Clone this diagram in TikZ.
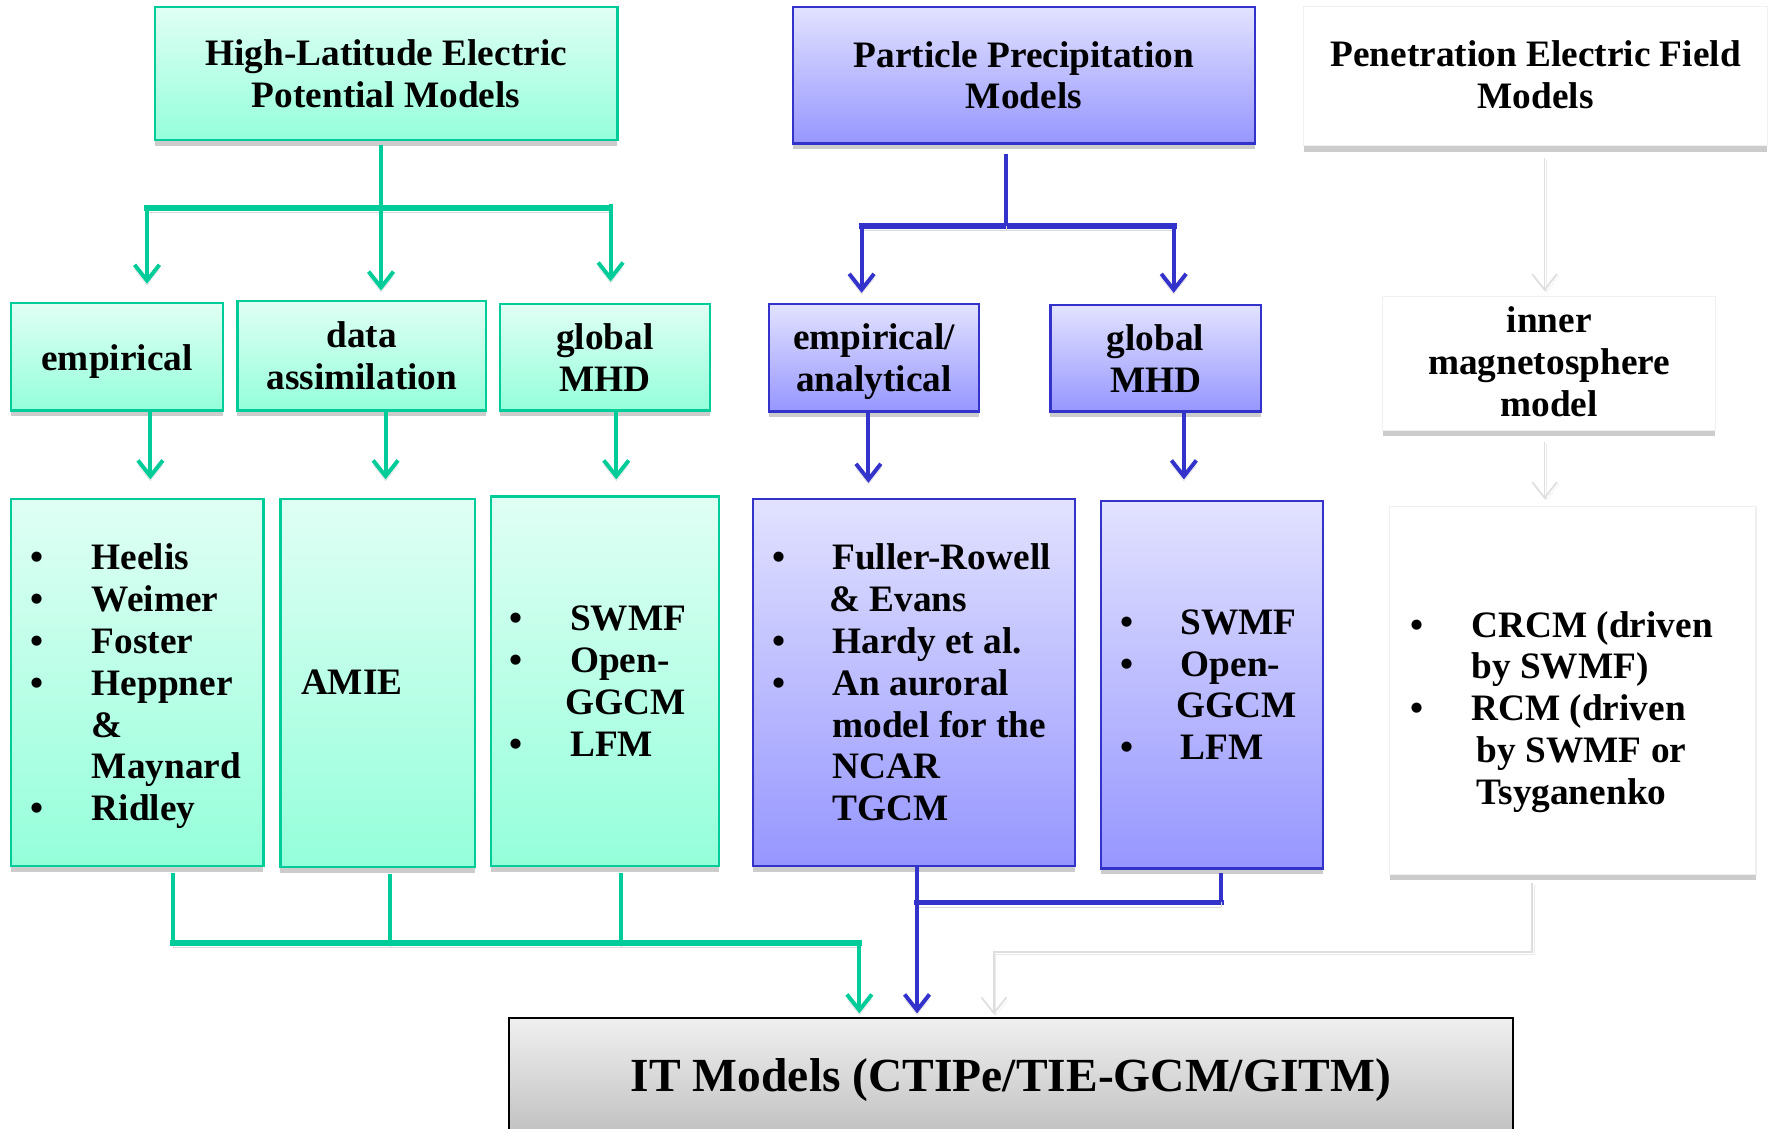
\documentclass[tikz,border=0pt]{standalone}
\usepackage{fontspec}
\setmainfont{Liberation Serif}
\usetikzlibrary{arrows.meta,shadows,calc}
\definecolor{gcol}{RGB}{0,204,153}
\definecolor{gtop}{RGB}{224,255,244}
\definecolor{gbot}{RGB}{148,255,218}
\definecolor{bcol}{RGB}{51,51,204}
\definecolor{btop}{RGB}{226,226,255}
\definecolor{bbot}{RGB}{150,150,255}
\definecolor{faintc}{RGB}{222,222,222}
\definecolor{itop}{RGB}{240,240,240}
\definecolor{ibot}{RGB}{192,192,192}
\tikzset{
  boxbase/.style={rectangle, inner sep=0pt, align=center,
    font=\bfseries\fontsize{33}{37}\selectfont,
    drop shadow={shadow xshift=0pt, shadow yshift=-5pt, fill=black!20, opacity=1}},
  gbox/.style={boxbase, draw=gcol, line width=2pt, top color=gtop, bottom color=gbot},
  bbox/.style={boxbase, draw=bcol, line width=2pt, top color=btop, bottom color=bbot},
  wbox/.style={boxbase, draw=black!6, line width=1pt, fill=white},
  listtxt/.style={inner sep=0pt, anchor=west, font=\bfseries\fontsize{33}{37}\selectfont},
  conn/.style={line width=3.5pt, preaction={draw=black!15, transform canvas={shift={(0pt,-4pt)}}}},
  gcon/.style={conn, draw=gcol},
  bcon/.style={conn, draw=bcol},
  barline/.style={line width=5pt, line cap=rect},
  fcon/.style={line width=1.5pt, draw=faintc, preaction={draw=black!8, transform canvas={shift={(1.5pt,-2pt)}}}},
  myarrow/.style={-{Straight Barb[length=14pt,width=22pt]}},
}
\begin{document}
\begin{tikzpicture}[x=1pt,y=-1pt]
\fill[white] (0,0) rectangle (1568,998);
\useasboundingbox (0,0) rectangle (1568,998);

% top row
\node[gbox, minimum width=409, minimum height=118] (hl) at (341.5,65) {High-Latitude Electric\\Potential Models};
\node[bbox, minimum width=409, minimum height=121] (pp) at (905.5,66.5) {Particle Precipitation\\Models};
\node[wbox, minimum width=410, minimum height=123] (pen) at (1358,67.5) {\raisebox{-2.5pt}[\height][\depth]{\begin{tabular}{@{}c@{}}Penetration Electric Field\\Models\end{tabular}}};

% middle row
\node[gbox, minimum width=187, minimum height=95] (emp) at (103.5,315.5) {\raisebox{-4pt}[\height][\depth]{empirical}};
\node[gbox, minimum width=220, minimum height=97] (da) at (320,314.5) {data\\assimilation};
\node[gbox, minimum width=186, minimum height=94] (gm1) at (535,316) {global\\MHD};
\node[bbox, minimum width=186, minimum height=95] (ea) at (773,316.5) {\raisebox{-4pt}[\height][\depth]{\begin{tabular}{@{}c@{}}empirical/\\analytical\end{tabular}}};
\node[bbox, minimum width=186, minimum height=94] (gm2) at (1022,317) {global\\MHD};
\node[wbox, minimum width=294, minimum height=119] (inner) at (1370,321.5) {\raisebox{-2.5pt}[\height][\depth]{\begin{tabular}{@{}c@{}}inner\\magnetosphere\\model\end{tabular}}};

% list boxes
\node[gbox, minimum width=223, minimum height=325] (l1) at (121.5,603.5) {};
\node[gbox, minimum width=172, minimum height=326] (l2) at (334,604) {};
\node[gbox, minimum width=202, minimum height=327] (l3) at (535,602.5) {};
\node[bbox, minimum width=285, minimum height=325] (l4) at (808.5,603.5) {};
\node[bbox, minimum width=196, minimum height=325] (l5) at (1072,605.5) {};
\node[wbox, minimum width=324, minimum height=325] (l6) at (1391,610.5) {};

\node[listtxt] (t1) at (27,607.5) {\begin{tabular}{@{}p{54pt}@{}l@{}}
\textbullet & Heelis\\ \textbullet & Weimer\\ \textbullet & Foster\\ \textbullet & Heppner\\ & \&\\ & Maynard\\ \textbullet & Ridley\end{tabular}};
\node[listtxt] (t2) at (266,603) {AMIE};
\node[listtxt] (t3) at (450,606) {\begin{tabular}{@{}p{54pt}@{}l@{}}
\textbullet & SWMF\\ \textbullet & Open-\\ & \hspace{-4pt}GGCM\\ \textbullet & LFM\end{tabular}};
\node[listtxt] (t4) at (683,607.5) {\begin{tabular}{@{}p{53pt}@{}l@{}}
\textbullet & Fuller-Rowell\\ & \hspace{-3pt}\& Evans\\ \textbullet & Hardy et al.\\ \textbullet & An auroral\\ & model for the\\ & NCAR\\ & TGCM\end{tabular}};
\node[listtxt] (t5) at (991,609) {\begin{tabular}{@{}p{53pt}@{}l@{}}
\textbullet & SWMF\\ \textbullet & Open-\\ & \hspace{-4pt}GGCM\\ \textbullet & LFM\end{tabular}};
\node[listtxt] (t6) at (1247,630) {\begin{tabular}{@{}p{54pt}@{}l@{}}
\textbullet & CRCM (driven\\ & by SWMF)\\ \textbullet & RCM (driven\\ & \hspace{5pt}by SWMF or\\ & \hspace{5pt}Tsyganenko\end{tabular}};

% bottom box
\node[rectangle, draw=black, line width=1.5pt, top color=itop, bottom color=ibot,
  minimum width=888, minimum height=105, inner sep=0pt,
  font=\bfseries\fontsize{42}{48}\selectfont] (it) at (894,952.5) {\raisebox{-3pt}[\height][\depth]{IT Models (CTIPe/TIE-GCM/GITM)}};

% helper coordinates
\coordinate (g1) at (130,184); \coordinate (g2) at (337,184); \coordinate (g3) at (540,184);
\coordinate (b1) at (762,200); \coordinate (b2) at (890,200); \coordinate (b3) at (1038,200);
\coordinate (xa) at (133,0); \coordinate (xb) at (341,0); \coordinate (xc) at (545,0);
\coordinate (xd) at (768,0); \coordinate (xe) at (1047,0); \coordinate (xf) at (1366,0);
\coordinate (xg) at (153,0); \coordinate (xh) at (345,0); \coordinate (xi) at (549,0);
\coordinate (xj) at (760,0); \coordinate (xk) at (811,0); \coordinate (xl) at (1080,0);
\coordinate (xm) at (1355,0); \coordinate (xn) at (879,0);
\coordinate (yg) at (0,834); \coordinate (yb) at (0,798); \coordinate (yf) at (0,842);

% green top connectors
\draw[gcon, barline] (g1) -- (g3);
\draw[gcon, myarrow, shorten >=16pt] (g1) -- (g1 |- emp.north);
\draw[gcon, myarrow, shorten <=3pt, shorten >=8pt] (hl.south -| g2) -- (g2 |- da.north);
\draw[gcon, myarrow, shorten <=-4pt, shorten >=19pt] (g3) -- (g3 |- gm1.north);

% blue top connectors
\draw[bcon, barline] (b1) -- (b3);
\draw[bcon, shorten <=8pt] (pp.south -| b2) -- (b2);
\draw[bcon, myarrow, shorten >=9pt] (b1) -- (ea.north -| b1);
\draw[bcon, myarrow, shorten >=10pt] (b3) -- (gm2.north -| b3);

% faint right connectors
\draw[fcon, myarrow, shorten <=10pt, shorten >=4pt] (pen.south -| xf) -- (inner.north -| xf);
\draw[fcon, myarrow, shorten <=9pt, shorten >=6pt] (inner.south -| xf) -- (l6.north -| xf);

% middle to list
\draw[gcon, myarrow, shorten >=16pt] (emp.south -| xa) -- (l1.north -| xa);
\draw[gcon, myarrow, shorten >=16pt] (da.south -| xb) -- (l2.north -| xb);
\draw[gcon, myarrow, shorten >=14pt] (gm1.south -| xc) -- (l3.north -| xc);
\draw[bcon, myarrow, shorten >=13pt] (ea.south -| xd) -- (l4.north -| xd);
\draw[bcon, myarrow, shorten >=18pt] (gm2.south -| xe) -- (l5.north -| xe);

% bottom green
\draw[gcon, shorten <=5pt] (l1.south -| xg) -- (xg |- yg);
\draw[gcon, shorten <=5pt] (l2.south -| xh) -- (xh |- yg);
\draw[gcon, shorten <=5pt] (l3.south -| xi) -- (xi |- yg);
\draw[gcon, barline] (xg |- yg) -- (xj |- yg);
\draw[gcon, myarrow, shorten >=3pt] (xj |- yg) -- (it.north -| xj);

% bottom blue
\draw[bcon, barline] (xk |- yb) -- (xl |- yb);
\draw[bcon, shorten <=3pt] (l5.south -| xl) -- (xl |- yb);
\draw[bcon, myarrow, shorten >=3pt] (l4.south -| xk) -- (it.north -| xk);

% bottom faint
\draw[fcon, myarrow, shorten <=7pt, shorten >=2pt] (l6.south -| xm) -- (xm |- yf) -- (xn |- yf) -- (it.north -| xn);
\end{tikzpicture}
\end{document}
